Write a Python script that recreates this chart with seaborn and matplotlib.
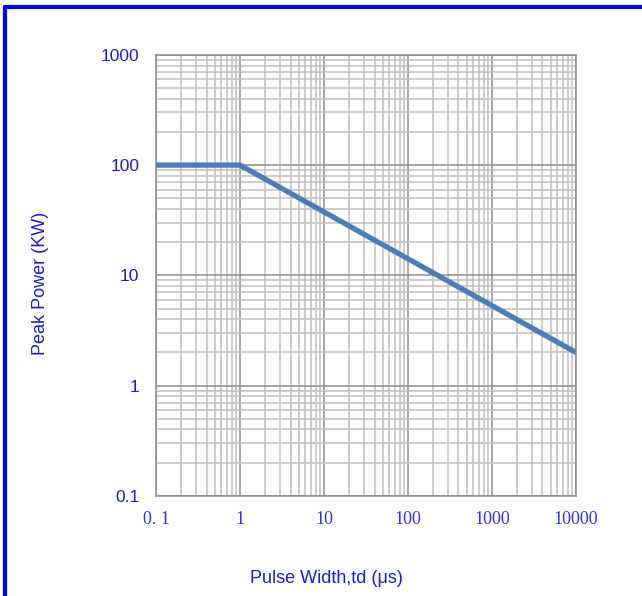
import matplotlib
matplotlib.use("Agg")
import matplotlib.pyplot as plt
import matplotlib.ticker as mticker
from matplotlib.lines import Line2D
import seaborn as sns
import pandas as pd

# === Data ===
pulse_width_us = [0.1, 1, 10000]
peak_power_kw = [100, 100, 2.0]

x_ticks = [0.1, 1, 10, 100, 1000, 10000]
x_tick_labels = ["0. 1", "1", "10", "100", "1000", "10000"]
y_ticks = [0.1, 1, 10, 100, 1000]
y_tick_labels = ["0.1", "1", "10", "100", "1000"]

df = pd.DataFrame({"pulse_width": pulse_width_us, "peak_power": peak_power_kw})

sns.set_style("white")
plt.rcParams["font.family"] = ["Liberation Sans", "DejaVu Sans"]

fig = plt.figure(figsize=(6.42, 5.96), dpi=100)
ax = fig.add_axes([0.243, 0.168, 0.654, 0.740])

sns.lineplot(data=df, x="pulse_width", y="peak_power", ax=ax,
             color="#4a7ebb", linewidth=3.8, solid_capstyle="round")

ax.set_xscale("log")
ax.set_yscale("log")
ax.set_xlim(0.1, 10000)
ax.set_ylim(0.1, 1000)

# grid: minor 2..9 in each decade, majors slightly darker
ax.xaxis.set_minor_locator(mticker.LogLocator(base=10, subs=range(2, 10), numticks=20))
ax.yaxis.set_minor_locator(mticker.LogLocator(base=10, subs=range(2, 10), numticks=20))
ax.grid(which="minor", color="#c0c0c0", linewidth=1.1)
ax.grid(which="major", color="#8c8c8c", linewidth=1.1)
ax.set_axisbelow(True)

ax.set_xticks(x_ticks)
ax.set_xticklabels(x_tick_labels, fontfamily="Liberation Serif", fontsize=13, color="#3030ee")
ax.set_yticks(y_ticks)
ax.set_yticklabels(y_tick_labels, fontsize=12.5, color="#1a1ad0")
ax.tick_params(which="both", length=0)
ax.tick_params(axis="x", pad=11)
ax.tick_params(axis="y", pad=12)

for s in ax.spines.values():
    s.set_color("#8c8c8c")
    s.set_linewidth(1.1)

ax.set_xlabel("Pulse Width,td (\u03bcs)", fontsize=13, color="#1a1ad0")
ax.set_ylabel("Peak Power (KW)", fontsize=13, color="#1a1ad0")
ax.xaxis.set_label_coords(0.405, -0.168)
ax.yaxis.set_label_coords(-0.255, 0.482)

# blue frame of the picture (top and left edges show)
fig.add_artist(Line2D([0.008, 1.0], [0.988, 0.988], transform=fig.transFigure,
                      color="#0000ff", linewidth=3.0))
fig.add_artist(Line2D([0.008, 0.008], [0.0, 0.988], transform=fig.transFigure,
                      color="#0000ff", linewidth=3.0))

fig.savefig("out.png", dpi=100)
